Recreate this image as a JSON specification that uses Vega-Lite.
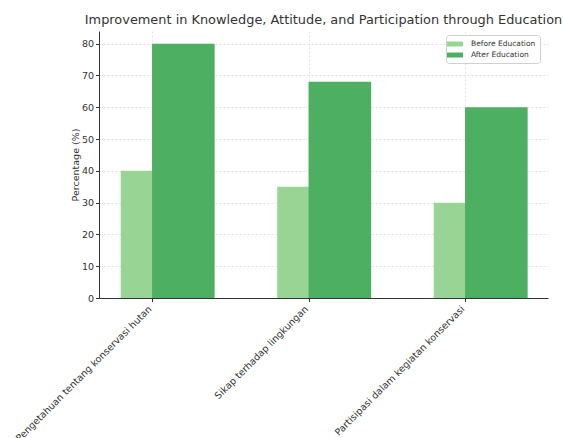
{
  "$schema": "https://vega.github.io/schema/vega-lite/v6.json",
  "width": 449,
  "height": 267,
  "autosize": {"type": "none"},
  "padding": {"left": 99, "top": 31, "right": 15, "bottom": 140},
  "background": "white",
  "title": {
    "text": "Improvement in Knowledge, Attitude, and Participation through Education",
    "font": "DejaVu Sans",
    "fontSize": 12.9,
    "fontWeight": "normal",
    "color": "#333333",
    "anchor": "middle",
    "offset": 4
  },
  "data": {
    "values": [
      {"aspect": "Pengetahuan tentang konservasi hutan", "phase": "Before Education", "value": 40},
      {"aspect": "Sikap terhadap lingkungan", "phase": "Before Education", "value": 35},
      {"aspect": "Partisipasi dalam kegiatan konservasi", "phase": "Before Education", "value": 30},
      {"aspect": "Pengetahuan tentang konservasi hutan", "phase": "After Education", "value": 80},
      {"aspect": "Sikap terhadap lingkungan", "phase": "After Education", "value": 68},
      {"aspect": "Partisipasi dalam kegiatan konservasi", "phase": "After Education", "value": 60}
    ]
  },
  "encoding": {
    "x": {
      "field": "aspect",
      "type": "nominal",
      "sort": null,
      "scale": {"type": "point", "padding": 0.4345, "align": 0.39},
      "axis": {
        "title": null,
        "labelAngle": -45,
        "labelAlign": "right",
        "labelBaseline": "top",
        "labelOffset": -6,
        "labelFont": "DejaVu Sans",
        "labelFontSize": 9.5,
        "labelColor": "#333333",
        "labelPadding": 2,
        "tickSize": 3.5,
        "tickColor": "#333333",
        "domainColor": "#333333",
        "domainWidth": 1,
        "grid": true,
        "gridColor": "#dddddd",
        "gridDash": [2, 2],
        "gridWidth": 0.8
      }
    },
    "y": {
      "field": "value",
      "type": "quantitative",
      "scale": {"domain": [0, 84], "nice": false},
      "axis": {
        "title": "Percentage (%)",
        "titleFont": "DejaVu Sans",
        "titleFontSize": 9.5,
        "titleFontWeight": "normal",
        "titleColor": "#333333",
        "titlePadding": 1,
        "values": [0, 10, 20, 30, 40, 50, 60, 70, 80],
        "labelFont": "DejaVu Sans",
        "labelFontSize": 9.5,
        "labelColor": "#333333",
        "labelPadding": 2,
        "tickSize": 3.5,
        "tickColor": "#333333",
        "domainColor": "#333333",
        "domainWidth": 1,
        "grid": true,
        "gridColor": "#dddddd",
        "gridDash": [2, 2],
        "gridWidth": 0.8
      }
    },
    "color": {
      "field": "phase",
      "type": "nominal",
      "scale": {
        "domain": ["Before Education", "After Education"],
        "range": ["#98d594", "#4caf62"]
      },
      "legend": {
        "title": null,
        "orient": "none",
        "legendX": 347,
        "legendY": 4,
        "fillColor": "white",
        "strokeColor": "#d0d0d0",
        "cornerRadius": 3,
        "padding": 4,
        "rowPadding": 2,
        "symbolType": "M-1.6,-0.5H1.6V0.5H-1.6Z",
        "symbolSize": 100,
        "symbolStrokeWidth": 0,
        "symbolOpacity": 1,
        "labelFont": "DejaVu Sans",
        "labelFontSize": 7.5,
        "labelColor": "#333333",
        "labelOffset": 11
      }
    }
  },
  "layer": [
    {
      "transform": [{"filter": "datum.phase === 'Before Education'"}],
      "mark": {"type": "bar", "width": 62.6, "opacity": 1}
    },
    {
      "transform": [{"filter": "datum.phase === 'After Education'"}],
      "mark": {"type": "bar", "width": 62.6, "xOffset": 31.3, "opacity": 1}
    }
  ],
  "config": {
    "view": {"stroke": null},
    "axis": {"labelLimit": 400}
  }
}
